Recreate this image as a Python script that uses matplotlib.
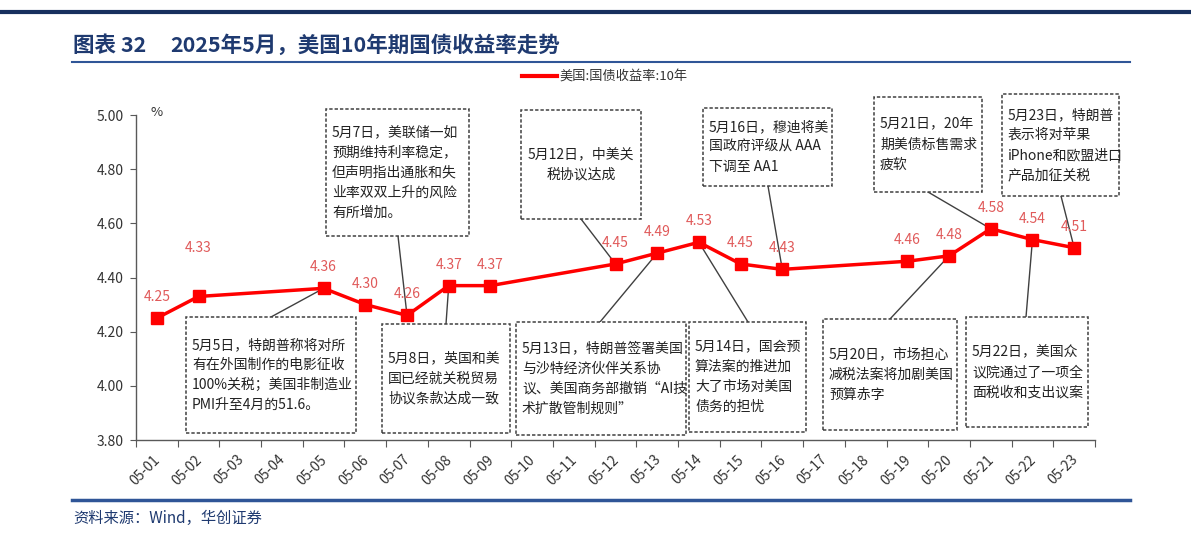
import numpy as np
import matplotlib
matplotlib.use("Agg")
import matplotlib.pyplot as plt
import matplotlib.transforms as transforms
from matplotlib.patches import Rectangle, ConnectionPatch
from matplotlib.lines import Line2D

plt.rcParams['font.family'] = ['Noto Sans CJK SC', 'DejaVu Sans']

# ---- data ----
dates = ['05-%02d' % d for d in range(1, 24)]
trade_dates = ['05-01', '05-02', '05-05', '05-06', '05-07', '05-08', '05-09',
               '05-12', '05-13', '05-14', '05-15', '05-16', '05-19', '05-20',
               '05-21', '05-22', '05-23']
yields = [4.25, 4.33, 4.36, 4.30, 4.26, 4.37, 4.37, 4.45, 4.49, 4.53, 4.45,
          4.43, 4.46, 4.48, 4.58, 4.54, 4.51]
series_name = '美国:国债收益率:10年'

note_dates = ['05-05', '05-07', '05-08', '05-12', '05-13', '05-14', '05-16',
              '05-20', '05-21', '05-22', '05-23']
note_texts = [
    '5月5日，特朗普称将对所\n有在外国制作的电影征收\n100%关税；美国非制造业\nPMI升至4月的51.6。',
    '5月7日，美联储一如\n预期维持利率稳定，\n但声明指出通胀和失\n业率双双上升的风险\n有所增加。',
    '5月8日，英国和美\n国已经就关税贸易\n协议条款达成一致',
    '5月12日，中美关\n税协议达成',
    '5月13日，特朗普签署美国\n与沙特经济伙伴关系协\n议、美国商务部撤销“AI技\n术扩散管制规则”',
    '5月14日，国会预\n算法案的推进加\n大了市场对美国\n债务的担忧',
    '5月16日，穆迪将美\n国政府评级从 AAA\n下调至 AA1',
    '5月20日，市场担心\n减税法案将加剧美国\n预算赤字',
    '5月21日，20年\n期美债标售需求\n疲软',
    '5月22日，美国众\n议院通过了一项全\n面税收和支出议案',
    '5月23日，特朗普\n表示将对苹果\niPhone和欧盟进口\n产品加征关税',
]

# ---- layout (image pixels, origin top-left) ----
W, H = 1191, 537
def fx(x):
    return x / W
def fy(y):
    return 1 - y / H

# box: x0, y0, x1, y1, connector start (x, y), text alignment
box_layout = {
    '05-05': (186, 317, 356, 433, 271, 317, 'left'),
    '05-07': (326, 109, 469, 236, 398, 236, 'left'),
    '05-08': (382, 324, 510, 433, 446, 324, 'left'),
    '05-12': (521, 110, 641, 219, 581, 219, 'center'),
    '05-13': (516, 322, 686, 435, 600, 322, 'left'),
    '05-14': (689, 322, 806, 432, 748, 322, 'left'),
    '05-16': (703, 108, 832, 186, 768, 186, 'left'),
    '05-20': (823, 319, 957, 430, 890, 319, 'left'),
    '05-21': (874, 97, 982, 192, 928, 192, 'left'),
    '05-22': (966, 317, 1088, 427, 1026, 317, 'left'),
    '05-23': (1002, 94, 1119, 196, 1061, 196, 'left'),
}

navy = '#1F3A70'
red = '#FF0000'
label_red = '#E05A5A'
axis_grey = '#595959'

fig = plt.figure(figsize=(11.91, 5.37), dpi=100)
ax = fig.add_axes([fx(136), fy(440), fx(1095) - fx(136), fy(115) - fy(440)])

xs = [dates.index(d) for d in trade_dates]
ax.plot(xs, yields, color=red, lw=2.5, marker='s', ms=8,
        mec=red, mfc=red, zorder=3)

for x, v in zip(xs, yields):
    off = 48 if v == 4.33 else 21
    ax.annotate('%.2f' % v, (x, v), xytext=(0, off), textcoords='offset pixels',
                ha='center', va='center', color=label_red, fontsize=10,
                zorder=4)

ax.set_xlim(-0.5, len(dates) - 0.5)
ax.set_ylim(3.8, 5.0)
yt = np.arange(3.8, 5.01, 0.2)
ax.set_yticks(yt)
ax.set_yticklabels(['%.2f' % t for t in yt])
ax.set_xticks(np.arange(-0.5, len(dates), 1))
ax.set_xticklabels([])
ax.set_xticks(range(len(dates)), minor=True)
ax.set_xticklabels(dates, minor=True, rotation=45, ha='right')
ax.tick_params(axis='x', which='major', length=5, color=axis_grey, direction='out')
ax.tick_params(axis='x', which='minor', length=0, pad=9, labelsize=10,
               labelcolor='#333333')
ax.tick_params(axis='y', length=4, color=axis_grey, direction='out', pad=5,
               labelsize=10, labelcolor='#333333')
# nudge the rotated date labels a little to the right
shift = transforms.ScaledTranslation(6 / 100, 0, fig.dpi_scale_trans)
for lab in ax.get_xticklabels(minor=True):
    lab.set_transform(lab.get_transform() + shift)
for s in ['top', 'right']:
    ax.spines[s].set_visible(False)
for s in ['bottom', 'left']:
    ax.spines[s].set_color(axis_grey)
    ax.spines[s].set_linewidth(1)

fig.text(fx(157), fy(113), '%', ha='center', va='center', fontsize=9.5,
         color='#333333')

legend_handle = Line2D([], [], color=red, lw=3)
fig.legend(handles=[legend_handle], labels=[series_name], loc='center',
           bbox_to_anchor=(fx(605), fy(77)), frameon=False, fontsize=9.5,
           handlelength=2.6, handletextpad=0.2, borderaxespad=0,
           labelcolor='#333333')

# annotation boxes
for d, txt in zip(note_dates, note_texts):
    x0, y0, x1, y1, cx, cy, al = box_layout[d]
    rect = Rectangle((fx(x0), fy(y1)), fx(x1) - fx(x0), fy(y0) - fy(y1),
                     transform=fig.transFigure, facecolor='white',
                     edgecolor='#404040', lw=1.1, ls=(0, (2.2, 1.3)), zorder=5)
    fig.add_artist(rect)
    if al == 'center':
        tx = fx((x0 + x1) / 2)
    else:
        tx = fx(x0 + 6)
    fig.text(tx, fy((y0 + y1) / 2), txt, ha=al, va='center', multialignment=al,
             fontsize=10, linespacing=1.55, color='#222222', zorder=6)
    con = ConnectionPatch(xyA=(fx(cx), fy(cy)), coordsA=fig.transFigure,
                          xyB=(dates.index(d), yields[trade_dates.index(d)]),
                          coordsB=ax.transData, color='#404040', lw=1)
    con.set_zorder(2)
    ax.add_artist(con)

# header / footer decoration
fig.add_artist(Line2D([0, 1], [fy(12), fy(12)], transform=fig.transFigure,
                      color='#17305E', lw=3))
fig.text(fx(73), fy(45), '图表 32', fontsize=15.5, fontweight='bold',
         color=navy, va='center', ha='left')
fig.text(fx(170), fy(45), '2025年5月，美国10年期国债收益率走势',
         fontsize=15.5, fontweight='bold', color=navy, va='center', ha='left')
fig.add_artist(Line2D([fx(72), fx(1130)], [fy(62), fy(62)],
                      transform=fig.transFigure, color='#2F5597', lw=1.5))
fig.add_artist(Line2D([fx(72), fx(1130)], [fy(500), fy(500)],
                      transform=fig.transFigure, color='#2F5597', lw=2.5))
fig.text(fx(73), fy(518), '资料来源：Wind，华创证券', fontsize=11,
         style='italic', color=navy, va='center', ha='left')

fig.savefig('out.png', dpi=100)
